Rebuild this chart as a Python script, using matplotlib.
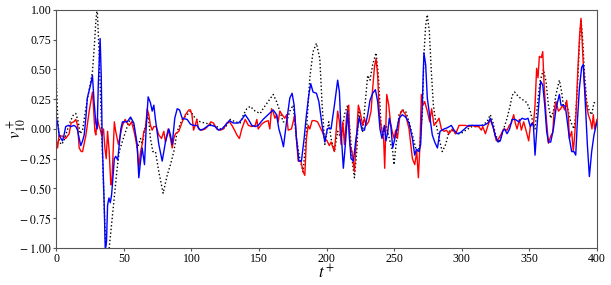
import matplotlib.pyplot as plt
from matplotlib.ticker import FuncFormatter

plt.rcParams['font.family'] = ['Liberation Serif', 'DejaVu Serif']
plt.rcParams['mathtext.fontset'] = 'stix'
plt.rcParams['font.size'] = 8.5

# reference signal (black dotted)
t_ref = [0, 1, 2.2, 3.4, 5.4, 7.9, 10.3, 12.8, 14.5, 16.3, 17.7, 19.5, 21.2, 23.2, 25.1, 26.8,
         28.1, 29.3, 30.3, 31.8, 33, 34.2, 35.5, 36.7, 38.5, 40.9, 42.9, 44.8, 46.6, 48.8,
         52.5, 55, 57.4, 60, 62.4, 63.6, 66, 68, 69.7, 71.5, 73.4, 75.9, 79.1, 82.1, 84.5,
         87, 89.5, 93.2, 96.9, 99.3, 102.8, 106.5, 110, 113.9, 117.6, 121.3, 125, 128.7,
         132.4, 136, 138.5, 141, 143.5, 147.2, 150.9, 153, 156.8, 160.5, 163, 165.4, 167.9,
         170.4, 172.8, 175.3, 177.7, 180.2, 182.7, 185.1, 187.6, 190, 192.5, 195, 196.7,
         198.7, 201.6, 203.3, 205.8, 208.2, 210.7, 213.2, 215.6, 217.3, 219.3, 220.6, 222.3,
         223.8, 225, 226.7, 228.7, 230.4, 232.1, 234.1, 236.6, 238.3, 240.3, 242, 244,
         246.4, 248.9, 249.9, 251.8, 253.6, 256, 258.5, 261, 263.5, 265.9, 267.6, 269,
         270.8, 272, 273.3, 274.5, 276, 277.5, 279, 280.7, 283.2, 285.6, 288.1, 290.6, 293,
         295.5, 299.2, 303, 307.6, 311, 315, 318.7, 321.1, 323, 324.8, 327.3, 329, 331,
         333.5, 335.9, 337.2, 339.1, 342.1, 345.8, 348.3, 350.7, 352.5, 354.2, 355.9, 357.9,
         360.4, 362.3, 364.1, 365.8, 367.8, 369.7, 372.2, 373.9, 375.1, 377.1, 378.8, 380.6,
         383, 384.3, 385.5, 387, 388.2, 389.4, 390.7, 392.4, 394.4, 396.1, 397.8, 400]
v_ref = [0.44, 0.12, -0.08, -0.13, -0.11, -0.02, 0.06, 0.12, 0.13, 0.06, -0.04, -0.01, 0.12,
         0.26, 0.37, 0.48, 0.68, 0.90, 1.02, 0.62, 0.20, -0.22, -0.64, -1.02, -1.08, -0.81,
         -0.58, -0.36, -0.19, -0.11, 0.02, 0.09, 0.03, -0.16, -0.08, -0.13, 0.03, 0.12,
         -0.08, -0.19, -0.19, -0.36, -0.54, -0.39, -0.30, -0.19, -0.02, 0.08, 0.12, 0.15,
         0.09, 0.06, 0.05, 0.04, 0.03, 0.0, 0.01, 0.08, 0.06, 0.05, 0.12, 0.17, 0.19, 0.15,
         0.13, 0.17, 0.23, 0.29, 0.23, 0.15, 0.06, 0.06, 0.15, 0.20, -0.08, -0.25, -0.36,
         -0.02, 0.43, 0.65, 0.72, 0.59, 0.20, -0.13, 0.06, -0.08, -0.19, -0.02, -0.08, 0.12,
         0.20, -0.02, -0.30, -0.41, -0.19, 0.17, 0.06, -0.02, 0.23, 0.45, 0.41, 0.54, 0.64,
         0.45, 0.03, -0.05, 0.03, -0.08, -0.19, -0.30, -0.08, 0.12, 0.16, 0.15, 0.06, -0.05,
         -0.16, -0.19, -0.13, 0.12, 0.62, 0.87, 0.96, 0.82, 0.48, 0.20, 0.06, -0.08, -0.19,
         -0.13, -0.02, -0.01, -0.04, -0.04, -0.01, 0.02, 0.02, 0.03, 0.06, 0.12, 0.06,
         -0.04, -0.11, -0.08, 0.0, 0.09, 0.20, 0.28, 0.31, 0.27, 0.24, 0.22, 0.15, 0.06,
         0.0, 0.20, 0.40, 0.50, 0.40, 0.20, 0.09, 0.15, 0.29, 0.41, 0.31, 0.20, 0.22, 0.15,
         0.06, 0.0, 0.12, 0.34, 0.71, 0.92, 0.76, 0.48, 0.23, 0.15, 0.12, 0.22, 0.22]

# blue prediction
t_blue = [0, 1, 2.2, 3.5, 4.7, 6, 7, 9, 11, 13, 14.5, 15.8, 17, 18.2, 19.5, 20.7, 22, 23,
          24.5, 25.6, 26.8, 28, 29.3, 30.3, 31.2, 32.5, 33.3, 34, 35.5, 36.3, 37.2, 38, 39,
          40, 41, 43, 44, 45.5, 47.8, 49, 52.5, 55, 57.4, 59.9, 61.1, 62.4, 63.6, 65.3,
          66.5, 68, 69.7, 71, 72.2, 73.4, 75.9, 78.4, 80.8, 83.3, 84.5, 85.8, 87.7, 89.5,
          91.2, 93.2, 96.9, 99.3, 101.6, 104, 106.5, 109, 112.7, 115, 117.6, 120, 122.5,
          125, 128, 131, 134.8, 137.3, 139.8, 142.2, 144.7, 147.2, 149.4, 153, 156.8, 160.5,
          163, 164.7, 166.7, 168.1, 170.4, 172.8, 174.5, 176, 177.7, 179.5, 181.4, 183.4,
          185.1, 186.9, 188.3, 190, 192.5, 194.3, 196.7, 198.7, 200.5, 202, 203.3, 205.8,
          208.2, 209.5, 210.7, 212.4, 213.9, 215.6, 216.9, 218.1, 219.8, 221.8, 224.2,
          226.2, 228, 230.4, 232.1, 234.1, 236.1, 237.8, 239.5, 241, 242.7, 243.9, 245.2,
          246.4, 247.6, 248.9, 250.5, 252, 253.6, 256, 258.5, 261, 263.5, 265.2, 266.5,
          268.4, 269.6, 270.8, 272, 273.3, 274.5, 276.5, 278.2, 280, 282, 283.9, 286.9,
          289.3, 292.3, 294.3, 296.7, 299, 302, 305.1, 308.8, 312.5, 316.2, 319.4, 321.1,
          322.9, 324.8, 326.8, 328.5, 330.3, 331.7, 333.5, 335.4, 337.2, 339.6, 342.1,
          344.6, 347, 349, 350.7, 352, 353, 354.2, 355.4, 356.7, 358.4, 359.9, 361.4, 362.8,
          364.1, 365.8, 367.8, 369.7, 372.2, 373.4, 375, 376.6, 378.1, 379.6, 381.3, 383,
          384.3, 385.5, 387, 388.7, 389.9, 391.2, 392.9, 394.4, 396.1, 397.8, 400]
v_blue = [0.10, 0.05, -0.05, -0.08, -0.10, -0.04, 0.02, 0.03, 0.02, 0.03, 0.02, -0.01,
          -0.08, -0.14, -0.10, -0.05, 0.10, 0.26, 0.33, 0.38, 0.45, 0.23, 0.05, 0.0, 0.40,
          0.76, 0.45, -0.08, -0.64, -1.02, -0.95, -0.64, -0.58, -0.62, -0.55, -0.25, -0.23,
          -0.26, 0.0, 0.06, 0.06, 0.10, 0.05, -0.13, -0.41, -0.27, -0.16, -0.30, 0.0, 0.27,
          0.22, 0.15, 0.20, 0.08, -0.13, -0.27, -0.11, 0.0, -0.05, -0.13, 0.09, 0.17, 0.16,
          0.09, 0.08, 0.04, 0.03, 0.03, -0.01, 0.0, 0.03, 0.03, 0.02, -0.01, 0.0, 0.03, 0.07,
          0.05, 0.05, 0.08, 0.12, 0.08, 0.03, 0.02, 0.03, 0.08, 0.12, 0.16, 0.12, 0.0, -0.08,
          -0.15, 0.06, 0.26, 0.30, 0.20, -0.08, -0.27, -0.27, -0.08, 0.12, 0.29, 0.38, 0.31,
          0.30, 0.23, 0.03, -0.11, 0.0, 0.01, 0.0, 0.20, 0.41, 0.31, -0.02, -0.33, -0.13,
          0.15, -0.08, -0.25, -0.27, -0.08, 0.10, -0.01, -0.01, 0.12, 0.24, 0.30, 0.33, 0.23,
          0.0, -0.08, 0.03, -0.10, -0.03, 0.09, 0.02, -0.16, -0.08, 0.0, 0.09, 0.12, 0.10,
          0.05, -0.08, -0.22, -0.17, -0.19, -0.13, 0.20, 0.64, 0.54, 0.26, 0.09, -0.05,
          -0.11, -0.16, -0.02, 0.0, 0.01, 0.03, -0.01, -0.04, -0.03, 0.0, 0.03, 0.03, 0.03,
          0.03, 0.05, 0.09, 0.03, -0.06, -0.11, -0.10, -0.02, 0.0, -0.04, 0.0, 0.08, 0.08,
          0.06, 0.09, 0.08, 0.09, 0.02, 0.05, 0.03, -0.22, -0.02, 0.17, 0.40, 0.37, 0.20,
          -0.02, -0.11, -0.11, 0.0, 0.17, 0.29, 0.20, 0.20, 0.19, 0.06, -0.08, -0.19, -0.19,
          -0.22, 0.06, 0.34, 0.52, 0.54, 0.26, -0.13, -0.40, -0.19, -0.05, 0.06]

# red prediction
t_red = [0, 1, 2.2, 3.5, 4.7, 7, 9.6, 11, 13, 14.5, 15.8, 17, 18.5, 19.5, 22, 24.4, 26.8,
         27.5, 28.6, 29.3, 30.5, 31.5, 32.5, 33.7, 35, 36, 37, 38, 39.2, 40.4, 41.2, 43, 44,
         46, 48, 49, 51, 52.5, 54.2, 55.7, 57.4, 58.7, 59.9, 61.1, 62.4, 63.6, 64.8, 66,
         67.3, 68.5, 69.7, 71, 72.2, 74, 75.9, 77.9, 79.6, 80.8, 82.8, 84.5, 85.8, 87, 88.2,
         90.7, 93.2, 95.6, 98.1, 99.3, 100.4, 101.6, 102.8, 104, 105.3, 107.7, 110.2, 112.7,
         114.4, 116.3, 118.8, 121.3, 123.7, 126.2, 128.2, 130, 132.4, 133.6, 135.5, 137.3,
         139.8, 142.2, 144.7, 147.2, 148.4, 149.4, 151.9, 154.3, 156.8, 158, 159.3, 160.5,
         161.8, 163, 164.2, 165.4, 167.1, 169.1, 170.4, 171.6, 174, 175.3, 176.5, 177.7, 179,
         181, 182.7, 183.9, 185.1, 186.4, 187.6, 189.3, 191.3, 193.3, 195, 196.7, 198.7,
         200.4, 202, 203.3, 205.8, 207, 208.2, 209.5, 210.7, 212, 213.2, 214.9, 216.4, 217.3,
         218.8, 220.6, 221.8, 223.5, 224.7, 226.7, 228, 229.2, 231.1, 232.9, 234.1, 235.4,
         236.6, 237.8, 239, 241, 242.2, 243, 244.5, 246, 247.2, 248.5, 250, 251.1, 252.4,
         254.3, 256, 258.5, 261, 263.5, 265.2, 266.7, 267.9, 269.1, 270.1, 271.3, 272.6,
         274.5, 276.3, 277.7, 279.5, 281.5, 283.2, 284.9, 286.9, 288.6, 290.6, 293, 295.5,
         298, 300.2, 302.7, 305.1, 307.6, 310, 312.5, 314.5, 315.5, 317.5, 319.4, 321.1,
         323.6, 325.6, 327.3, 329.3, 331, 333.5, 335.2, 336.7, 338.4, 339.6, 340.9, 342.6,
         344.1, 345.8, 347.5, 349.5, 350.7, 352, 353, 354.2, 355.4, 356.4, 357.4, 358.9,
         359.9, 360.9, 362.3, 364.1, 365.8, 367.3, 368.3, 369.7, 371.5, 373.2, 374.6, 376.1,
         377.6, 378.8, 379.6, 381.3, 382.5, 383.5, 384.5, 385.8, 387.2, 388.2, 389.2, 390.4,
         391.9, 393.6, 395.4, 396.3, 397.3, 398.3, 400]
v_red = [-0.08, -0.16, -0.05, -0.06, -0.06, -0.08, -0.04, 0.05, 0.06, 0.08, 0.03, -0.16,
         -0.19, -0.19, -0.05, 0.15, 0.31, 0.20, -0.02, -0.05, 0.09, 0.03, 0.0, -0.06, 0.0,
         -0.16, -0.25, -0.02, -0.19, -0.47, -0.44, 0.06, -0.02, -0.13, -0.02, 0.03, 0.08,
         0.05, 0.03, 0.06, -0.01, -0.08, -0.16, -0.33, -0.19, -0.13, -0.02, 0.0, 0.17, 0.12,
         0.03, -0.01, 0.02, 0.02, -0.05, -0.08, -0.02, -0.11, 0.0, -0.08, -0.16, -0.08,
         -0.04, -0.02, 0.06, 0.12, 0.16, 0.16, 0.12, -0.01, 0.03, 0.08, 0.0, -0.01, 0.0,
         0.03, 0.06, 0.05, 0.0, -0.01, 0.0, 0.05, 0.06, 0.03, -0.02, -0.05, -0.08, 0.0, 0.08,
         0.03, 0.02, 0.03, 0.08, 0.0, 0.04, 0.06, 0.07, 0.0, 0.17, 0.14, 0.09, 0.12, 0.06,
         0.15, 0.12, 0.09, 0.12, -0.01, 0.0, 0.06, 0.12, -0.08, -0.27, -0.27, -0.36, -0.39,
         -0.08, 0.03, 0.0, 0.07, 0.07, 0.06, 0.02, -0.02, -0.08, -0.10, -0.14, -0.11, -0.19,
         -0.03, 0.15, 0.06, -0.13, 0.06, -0.13, 0.12, 0.20, -0.13, -0.19, -0.36, -0.13, 0.20,
         0.15, 0.03, 0.09, 0.03, 0.06, 0.15, 0.34, 0.52, 0.59, 0.45, 0.12, -0.02, -0.08,
         -0.33, 0.29, 0.20, 0.06, -0.02, -0.08, -0.01, -0.08, 0.12, 0.16, 0.12, 0.0, -0.25,
         -0.30, -0.19, -0.41, -0.13, 0.29, 0.20, 0.23, 0.15, 0.06, 0.17, 0.03, 0.06, 0.09,
         0.0, -0.02, -0.01, -0.04, 0.0, -0.04, 0.03, 0.03, 0.03, 0.02, 0.03, 0.02, 0.02,
         -0.01, 0.02, -0.04, 0.03, 0.08, 0.0, -0.10, -0.08, -0.04, 0.0, -0.01, 0.03, 0.05,
         0.12, 0.05, 0.0, 0.08, -0.01, 0.06, -0.01, -0.10, 0.02, 0.04, 0.03, 0.20, 0.51,
         0.43, 0.61, 0.60, 0.65, 0.37, 0.12, -0.12, -0.06, -0.03, 0.15, 0.23, 0.15, 0.17,
         0.20, 0.16, 0.24, 0.12, -0.08, -0.02, -0.19, -0.06, 0.12, 0.48, 0.79, 0.93, 0.71,
         0.43, 0.23, 0.12, 0.06, 0.0, 0.12, 0.0, 0.08]

y_ticks = [-1, -0.75, -0.5, -0.25, 0, 0.25, 0.5, 0.75, 1]


def fmt_y(val, pos):
    s = '%.2f' % abs(val)
    if val < 0:
        return r'$-\;\mathrm{%s}$' % s
    return s


fig = plt.figure(figsize=(6.11, 2.85), dpi=100)
ax = fig.add_axes([0.092, 0.130, 0.885, 0.835])

ax.plot(t_ref, v_ref, color='black', linestyle=':', linewidth=1.0)
ax.plot(t_red, v_red, color='red', linewidth=1.0)
ax.plot(t_blue, v_blue, color='blue', linewidth=1.0)

ax.set_xlim(0, 400)
ax.set_ylim(-1, 1)
ax.set_xticks(range(0, 401, 50))
ax.set_yticks(y_ticks)
ax.yaxis.set_major_formatter(FuncFormatter(fmt_y))
ax.tick_params(length=2, pad=1.5, color='#555555')
ax.set_xlabel('$t^+$', fontsize=12)
ax.set_ylabel('$v_{10}^+$', fontsize=12)
ax.xaxis.set_label_coords(0.5, -0.065)
ax.yaxis.set_label_coords(-0.05, 0.5)
for s in ax.spines.values():
    s.set_color('#555555')

fig.savefig('out.png', dpi=100)
